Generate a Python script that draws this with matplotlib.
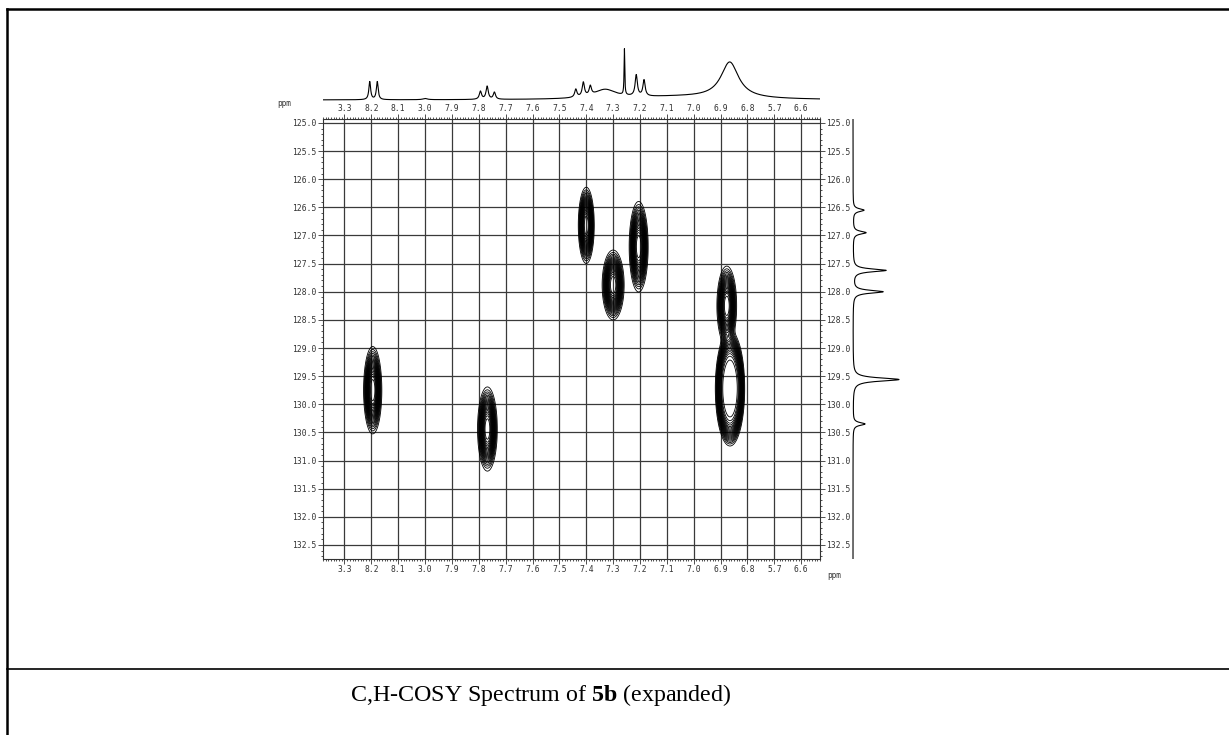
import numpy as np
import matplotlib
matplotlib.use("Agg")
import matplotlib.pyplot as plt
from matplotlib.lines import Line2D
from matplotlib.ticker import MultipleLocator, FixedLocator

plt.rcParams['mathtext.fontset'] = 'custom'
plt.rcParams['mathtext.rm'] = 'Liberation Serif'
plt.rcParams['mathtext.bf'] = 'Liberation Serif:bold'

# axis ranges (ppm)
h_lim = (8.38, 6.53)
c_lim = (132.75, 124.93)
h_ticks = [8.3, 8.2, 8.1, 8.0, 7.9, 7.8, 7.7, 7.6, 7.5, 7.4, 7.3, 7.2, 7.1, 7.0, 6.9, 6.8, 6.7, 6.6]
h_tick_labels = ['3.3', '8.2', '8.1', '3.0', '7.9', '7.8', '7.7', '7.6', '7.5', '7.4',
                 '7.3', '7.2', '7.1', '7.0', '6.9', '6.8', '5.7', '6.6']
c_ticks = [125.0, 125.5, 126.0, 126.5, 127.0, 127.5, 128.0, 128.5, 129.0, 129.5,
           130.0, 130.5, 131.0, 131.5, 132.0, 132.5]

# cross peaks: 1H shift, 13C shift, half widths, peak flatness
cross_h = [8.195, 7.768, 7.400, 7.300, 7.205, 6.877, 6.865]
cross_c = [129.75, 130.44, 126.82, 127.88, 127.20, 128.25, 129.72]
cross_wh = [0.024, 0.026, 0.021, 0.029, 0.025, 0.026, 0.046]
cross_wc = [0.55, 0.53, 0.48, 0.44, 0.57, 0.50, 0.86]
cross_flat = [1.5, 1.5, 1.5, 1.5, 1.5, 1.5, 3.0]

# 1H projection (top): shift, height, half width
proton_shift = [8.206, 8.178, 8.00, 7.794, 7.769, 7.742, 7.439, 7.411, 7.385,
                7.33, 7.258, 7.214, 7.185, 6.866, 7.05]
proton_height = [18, 18, 1.2, 8, 13, 7, 8, 14, 9, 9, 46, 21, 16, 36, 3]
proton_width = [0.004, 0.004, 0.01, 0.005, 0.005, 0.005, 0.005, 0.005, 0.005,
                0.05, 0.0015, 0.005, 0.005, 0.04, 0.25]

# 13C projection (right): shift, height, half width
carbon_shift = [126.55, 126.95, 127.62, 128.00, 129.56, 130.35]
carbon_height = [11, 13, 33, 30, 46, 12]
carbon_width = [0.03, 0.03, 0.03, 0.03, 0.035, 0.03]

W, H = 1229, 735
fig = plt.figure(figsize=(W / 100, H / 100), dpi=100)


def box(x0, y0, x1, y1):
    return [x0 / W, 1 - y1 / H, (x1 - x0) / W, (y1 - y0) / H]


ax = fig.add_axes(box(323, 119, 820, 559))
ax.set_xlim(*h_lim)
ax.set_ylim(*c_lim)

# 2D map
hx = np.linspace(h_lim[0], h_lim[1], 800)
cy = np.linspace(c_lim[1], c_lim[0], 800)
HX, CY = np.meshgrid(hx, cy)
Z = np.zeros_like(HX)
for h, c, wh, wc, p in zip(cross_h, cross_c, cross_wh, cross_wc, cross_flat):
    r2 = ((HX - h) / wh) ** 2 + ((CY - c) / wc) ** 2
    Z += np.exp(-r2 ** p)
ax.contour(HX, CY, Z, levels=np.linspace(0.06, 0.96, 22), colors='black', linewidths=0.6)

# ticks and grid
mono = 'DejaVu Sans Mono'
ax.xaxis.set_major_locator(FixedLocator(h_ticks))
ax.set_xticklabels(h_tick_labels, family=mono, fontsize=5.8)
ax.xaxis.set_minor_locator(MultipleLocator(0.01))
ax.yaxis.set_major_locator(FixedLocator(c_ticks))
ax.set_yticklabels([f'{v:.1f}' for v in c_ticks], family=mono, fontsize=5.8)
ax.yaxis.set_minor_locator(MultipleLocator(0.1))
ax.tick_params(which='both', direction='out', top=True, right=True,
               labeltop=True, labelright=True, width=0.6, color='#333333', labelcolor='#333333')
ax.tick_params(which='major', length=3.5, pad=1.0)
ax.tick_params(which='minor', length=1.5)
ax.grid(True, which='major', color='#3a3a3a', linewidth=0.9)
for s in ax.spines.values():
    s.set_linewidth(0.8)
    s.set_color('#333333')

fig.text(284 / W, 1 - 104 / H, 'ppm', family=mono, fontsize=5.6, ha='center', va='center', color='#333333')
fig.text(834 / W, 1 - 575 / H, 'ppm', family=mono, fontsize=5.6, ha='center', va='center', color='#333333')

# top 1D projection
axt = fig.add_axes(box(323, 40, 820, 102))
px = np.linspace(h_lim[0], h_lim[1], 3000)
spec = np.zeros_like(px)
for s, a, w in zip(proton_shift, proton_height, proton_width):
    spec += a / (1 + ((px - s) / w) ** 2)
axt.plot(px, spec, color='black', linewidth=0.8)
axt.set_xlim(*h_lim)
axt.set_ylim(-2, 60)
axt.axis('off')

# right 1D projection
axr = fig.add_axes(box(848, 119, 913, 559))
cc = np.linspace(c_lim[1], c_lim[0], 3000)
cspec = np.zeros_like(cc)
for s, a, w in zip(carbon_shift, carbon_height, carbon_width):
    cspec += a / (1 + ((cc - s) / w) ** 2)
axr.plot(cspec, cc, color='black', linewidth=0.8)
axr.set_ylim(*c_lim)
axr.set_xlim(-5, 60)
axr.axis('off')

# page frame and caption
lw = 1.8
fig.add_artist(Line2D([7 / W, 7 / W], [0, 1 - 9 / H], color='black', linewidth=lw, transform=fig.transFigure))
fig.add_artist(Line2D([7 / W, 1], [1 - 9 / H, 1 - 9 / H], color='black', linewidth=lw, transform=fig.transFigure))
fig.add_artist(Line2D([7 / W, 1], [1 - 669 / H, 1 - 669 / H], color='black', linewidth=1.2, transform=fig.transFigure))
fig.text(541 / W, 1 - 695 / H, r'C,H-COSY Spectrum of $\mathbf{5b}$ (expanded)',
         family='Liberation Serif', fontsize=17.3, ha='center', va='center')

fig.savefig('out.png', dpi=100)
